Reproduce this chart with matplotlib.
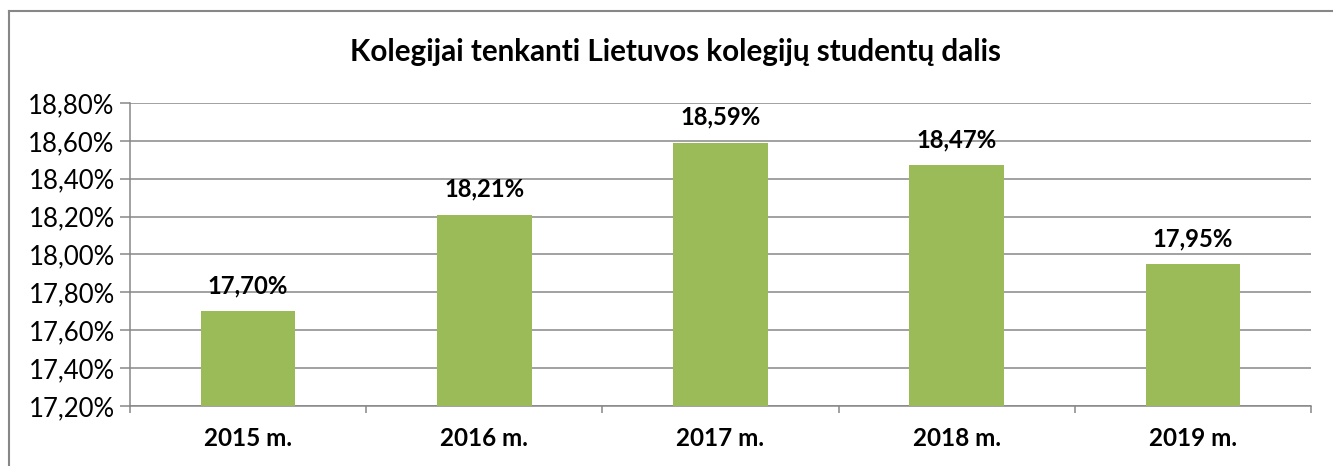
import matplotlib.pyplot as plt
from matplotlib.lines import Line2D
from matplotlib.ticker import FuncFormatter

# data
years = ['2015 m.', '2016 m.', '2017 m.', '2018 m.', '2019 m.']
shares = [17.70, 18.21, 18.59, 18.47, 17.95]
y_ticks = [17.2, 17.4, 17.6, 17.8, 18.0, 18.2, 18.4, 18.6, 18.8]

plt.rcParams['font.family'] = ['Lato', 'DejaVu Sans']

fig = plt.figure(figsize=(13.33, 4.66), dpi=100)
ax = fig.add_axes([0.0975, 0.1288, 0.886, 0.6502])

grid_col = '#878787'
x = list(range(len(years)))
ax.bar(x, shares, width=0.40, color='#9BBB59', zorder=3)

ax.set_xlim(-0.5, len(years) - 0.5)
ax.set_ylim(17.2, 18.8)
ax.set_yticks(y_ticks)
ax.yaxis.set_major_formatter(FuncFormatter(lambda v, p: f'{v:.2f}%'.replace('.', ',')))
ax.grid(axis='y', color=grid_col, linewidth=1.1, zorder=0)

# category boundary ticks
ax.set_xticks([i - 0.5 for i in range(len(years) + 1)])
ax.set_xticklabels([])
ax.set_xticks(x, minor=True)
ax.set_xticklabels(years, minor=True, fontsize=17.5, fontweight='bold')
ax.tick_params(axis='x', which='minor', length=0, pad=15)
ax.tick_params(axis='x', which='major', length=5, color=grid_col, width=1.1)
ax.tick_params(axis='y', length=7, color=grid_col, width=1.1, labelsize=18.5, pad=4)

for s in ['top', 'right']:
    ax.spines[s].set_visible(False)
for s in ['left', 'bottom']:
    ax.spines[s].set_color(grid_col)
    ax.spines[s].set_linewidth(1.1)

for xi, v in zip(x, shares):
    ax.annotate(f'{v:.2f}%'.replace('.', ','), (xi, v), xytext=(0, 10),
                textcoords='offset points', ha='center', va='bottom',
                fontsize=17.2, fontweight='bold')

fig.text(0.507, 0.888, 'Kolegijai tenkanti Lietuvos kolegijų studentų dalis',
         ha='center', va='center', fontsize=21.3, fontweight='bold')

# outer chart frame (top and left edges visible)
fig.add_artist(Line2D([9 / 1333, 1], [1 - 11 / 466, 1 - 11 / 466], color=grid_col, linewidth=1.5))
fig.add_artist(Line2D([9 / 1333, 9 / 1333], [0, 1 - 11 / 466], color=grid_col, linewidth=1.5))

fig.savefig('out.png', dpi=100)
